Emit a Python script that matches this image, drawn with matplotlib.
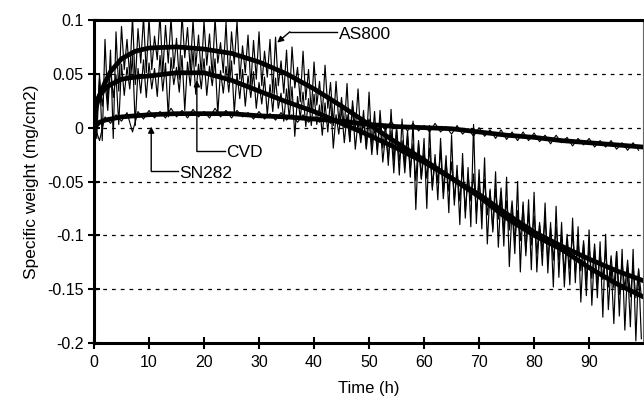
import matplotlib.pyplot as plt
import numpy as np

plt.rcParams['font.family'] = ['Liberation Sans', 'DejaVu Sans']

# smooth (dense) part of each trace
trend_t = [0, 1, 2, 3, 5, 7.5, 10, 15, 20, 25, 30, 35, 40, 45, 50, 55,
           60, 65, 70, 75, 80, 85, 90, 95, 99.8]
as800_trend = [0.012, 0.03, 0.042, 0.052, 0.064, 0.071, 0.074, 0.075, 0.073,
               0.069, 0.061, 0.05, 0.036, 0.02, 0.003, -0.014, -0.03, -0.047,
               -0.064, -0.084, -0.1, -0.113, -0.13, -0.145, -0.157]
cvd_trend = [0.02, 0.03, 0.036, 0.04, 0.045, 0.047, 0.048, 0.051, 0.051,
             0.044, 0.034, 0.024, 0.015, 0.004, -0.007, -0.019, -0.032, -0.047,
             -0.062, -0.08, -0.097, -0.11, -0.122, -0.133, -0.142]
sn282_trend = [0.0, 0.005, 0.007, 0.008, 0.01, 0.011, 0.012, 0.013, 0.013,
               0.013, 0.011, 0.01, 0.008, 0.006, 0.003, 0.001, 0.0, -0.001,
               -0.004, -0.007, -0.009, -0.012, -0.014, -0.016, -0.018]

# spike tips (hourly: highs at t h, lows at t + 0.5 h)
as800_hi = [0.042, 0.05, 0.082, 0.072, 0.089, 0.094, 0.082, 0.103, 0.092, 0.103,
            0.102, 0.085, 0.105, 0.095, 0.102, 0.083, 0.105, 0.093, 0.1, 0.086,
            0.099, 0.087, 0.102, 0.079, 0.098, 0.089, 0.099, 0.076, 0.086, 0.081,
            0.089, 0.071, 0.082, 0.084, 0.062, 0.072, 0.075, 0.056, 0.071, 0.054,
            0.061, 0.043, 0.058, 0.042, 0.043, 0.028, 0.041, 0.025, 0.036, 0.016,
            0.033, 0.015, 0.016, 0.003, 0.017, -0.002, 0.008, -0.003, 0.006, -0.015,
            -0.01, 0.002, -0.025, -0.01, -0.026, -0.007, -0.035, -0.024, -0.037, 0.003,
            -0.039, -0.028, -0.057, -0.041, -0.06, -0.046, -0.075, -0.05, -0.069, -0.067,
            -0.06, -0.088, -0.07, -0.088, -0.073, -0.088, -0.104, -0.084, -0.092, -0.108,
            -0.095, -0.113, -0.106, -0.099, -0.127, -0.115, -0.113, -0.13, -0.113, -0.131]
as800_lo = [-0.01, -0.012, 0.022, -0.01, 0.034, 0.054, 0.047, 0.04, 0.06, 0.051,
            0.054, 0.063, 0.05, 0.06, 0.055, 0.045, 0.065, 0.053, 0.057, 0.049,
            0.058, 0.047, 0.06, 0.051, 0.042, 0.059, 0.045, 0.051, 0.039, 0.045,
            0.039, 0.047, 0.032, 0.039, 0.032, 0.022, 0.037, 0.024, 0.026, 0.014,
            0.021, 0.011, 0.018, 0.002, 0.005, 0.0, -0.013, -0.002, -0.01, -0.019,
            -0.017, -0.025, -0.019, -0.035, -0.031, -0.044, -0.035, -0.046, -0.076, -0.047,
            -0.075, -0.058, -0.067, -0.06, -0.079, -0.072, -0.09, -0.084, -0.092, -0.089,
            -0.094, -0.108, -0.097, -0.111, -0.11, -0.129, -0.117, -0.134, -0.119, -0.132,
            -0.134, -0.128, -0.135, -0.148, -0.139, -0.148, -0.146, -0.144, -0.162, -0.156,
            -0.165, -0.158, -0.176, -0.169, -0.182, -0.175, -0.188, -0.185, -0.198, -0.196]
cvd_hi = [0.03, 0.045, 0.044, 0.058, 0.049, 0.059, 0.056, 0.067, 0.055, 0.063,
          0.06, 0.055, 0.067, 0.06, 0.065, 0.056, 0.067, 0.061, 0.071, 0.059,
          0.064, 0.057, 0.064, 0.053, 0.057, 0.062, 0.05, 0.054, 0.048, 0.052,
          0.042, 0.047, 0.04, 0.046, 0.032, 0.036, 0.038, 0.029, 0.033, 0.027,
          0.031, 0.021, 0.023, 0.027, 0.012, 0.018, 0.012, 0.02, 0.006, 0.007,
          0.008, 0.001, 0.006, -0.006, -0.003, 0.001, -0.012, -0.008, -0.015, -0.012,
          -0.022, -0.019, -0.03, -0.021, -0.032, -0.032, -0.04, -0.035, -0.044, -0.043,
          -0.05, -0.048, -0.059, -0.057, -0.056, -0.068, -0.068, -0.077, -0.072, -0.08,
          -0.082, -0.09, -0.084, -0.093, -0.092, -0.1, -0.099, -0.097, -0.106, -0.105,
          -0.11, -0.108, -0.116, -0.113, -0.119, -0.115, -0.125, -0.123, -0.128, -0.132]
cvd_lo = [0.005, 0.02, 0.016, 0.028, 0.003, 0.03, 0.036, 0.002, 0.032, 0.028,
          0.036, 0.029, 0.034, 0.01, 0.04, 0.033, 0.016, 0.039, 0.031, 0.036,
          0.03, 0.039, 0.013, 0.032, 0.033, 0.014, 0.027, 0.02, 0.028, 0.018,
          0.022, 0.012, 0.015, 0.018, 0.006, 0.009, -0.008, 0.009, 0.001, 0.002,
          0.003, -0.007, -0.004, -0.019, -0.006, -0.014, -0.013, -0.02, -0.014, -0.02,
          -0.025, -0.021, -0.032, -0.029, -0.042, -0.031, -0.042, -0.039, -0.049, -0.048,
          -0.047, -0.055, -0.05, -0.066, -0.059, -0.067, -0.068, -0.078, -0.068, -0.079,
          -0.08, -0.081, -0.094, -0.085, -0.096, -0.095, -0.105, -0.105, -0.115, -0.109,
          -0.117, -0.115, -0.124, -0.123, -0.123, -0.135, -0.131, -0.135, -0.133, -0.142,
          -0.14, -0.146, -0.141, -0.148, -0.149, -0.155, -0.15, -0.157, -0.158, -0.157]
# SN282 spikes every 2 h (highs at even hours, lows at odd hours)
sn282_hi = [0.003, 0.01, 0.012, 0.014, 0.015, 0.016, 0.015, 0.018, 0.016, 0.017,
            0.015, 0.018, 0.016, 0.016, 0.014, 0.015, 0.013, 0.014, 0.012, 0.012,
            0.01, 0.011, 0.009, 0.009, 0.006, 0.007, 0.004, 0.006, 0.003, 0.004,
            0.002, 0.004, 0.001, 0.002, -0.001, 0.0, -0.002, -0.002, -0.004, -0.004,
            -0.005, -0.007, -0.007, -0.009, -0.01, -0.01, -0.012, -0.012, -0.014, -0.014]
sn282_lo = [-0.012, 0.004, 0.006, -0.004, 0.008, 0.009, 0.009, 0.01, 0.009, 0.01,
            0.009, 0.01, 0.009, 0.01, 0.008, 0.008, 0.007, 0.007, 0.005, 0.005,
            0.005, 0.004, 0.002, 0.003, 0.0, 0.0, -0.002, -0.001, -0.003, -0.003,
            -0.004, -0.004, -0.006, -0.006, -0.008, -0.008, -0.01, -0.011, -0.012, -0.012,
            -0.013, -0.015, -0.014, -0.017, -0.016, -0.018, -0.018, -0.02, -0.021, -0.021]

x_ticks = [0, 10, 20, 30, 40, 50, 60, 70, 80, 90]
y_ticks = [0.1, 0.05, 0, -0.05, -0.1, -0.15, -0.2]
y_labels = ['0.1', '0.05', '0', '-0.05', '-0.1', '-0.15', '-0.2']


def zigzag(t_hi, hi, t_lo, lo):
    xs = np.column_stack([t_hi, t_lo]).ravel()
    ys = np.column_stack([hi, lo]).ravel()
    return xs, ys


fig = plt.figure(figsize=(6.44, 4.09), dpi=100)
ax = fig.add_axes([94 / 644, 1 - 343 / 409, 549 / 644, 323 / 409])

h = np.arange(100)
h2 = np.arange(0, 100, 2)
for hi, lo in [(as800_hi, as800_lo), (cvd_hi, cvd_lo)]:
    xs, ys = zigzag(h, hi, h + 0.5, lo)
    ax.plot(xs, ys, color='k', lw=0.85, zorder=3)
xs, ys = zigzag(h2, sn282_hi, h2 + 1, sn282_lo)
ax.plot(xs, ys, color='k', lw=0.8, zorder=3)

for tr in [as800_trend, cvd_trend, sn282_trend]:
    ax.plot(trend_t, tr, color='k', lw=3.4, zorder=4, solid_joinstyle='round')

# grid
for v in y_ticks[1:-1]:
    ax.axhline(v, color='k', lw=0.9, ls=(0, (3, 4)), zorder=1)

# labels with elbow arrows
arr = dict(arrowstyle='-|>', color='k', lw=1.0, mutation_scale=9, shrinkA=0, shrinkB=0)
ax.annotate('', xy=(33.3, 0.079), xytext=(35.6, 0.089), arrowprops=arr, zorder=6)
ax.plot([35.6, 44.2], [0.089, 0.089], color='k', lw=1.0, zorder=6)
ax.text(44.5, 0.0865, 'AS800', fontsize=12.5, va='center', ha='left', zorder=6)

ax.annotate('', xy=(18.7, 0.044), xytext=(18.7, -0.022), arrowprops=arr, zorder=6)
ax.plot([18.7, 23.8], [-0.022, -0.022], color='k', lw=1.0, zorder=6)
ax.text(24.1, -0.0235, 'CVD', fontsize=12.5, va='center', ha='left', zorder=6)

ax.annotate('', xy=(10.4, 0.001), xytext=(10.4, -0.040), arrowprops=arr, zorder=6)
ax.plot([10.4, 15.2], [-0.040, -0.040], color='k', lw=1.0, zorder=6)
ax.text(15.5, -0.0425, 'SN282', fontsize=12.5, va='center', ha='left', zorder=6)

ax.set_xlim(0, 99.8)
ax.set_ylim(-0.2, 0.1)
ax.set_xticks(x_ticks)
ax.set_yticks(y_ticks)
ax.set_yticklabels(y_labels)
ax.tick_params(direction='inout', length=9, width=1.5, labelsize=11.5, pad=4)
ax.tick_params(axis='y', pad=3)

for s in ['left', 'bottom', 'top']:
    ax.spines[s].set_linewidth(2.2)
ax.spines['right'].set_linewidth(0.8)
ax.spines['right'].set_color('0.4')

ax.set_xlabel('Time (h)', fontsize=12, labelpad=8)
ax.set_ylabel('Specific weight (mg/cm2)', fontsize=12.5, labelpad=6)

fig.savefig('out.png', dpi=100)
